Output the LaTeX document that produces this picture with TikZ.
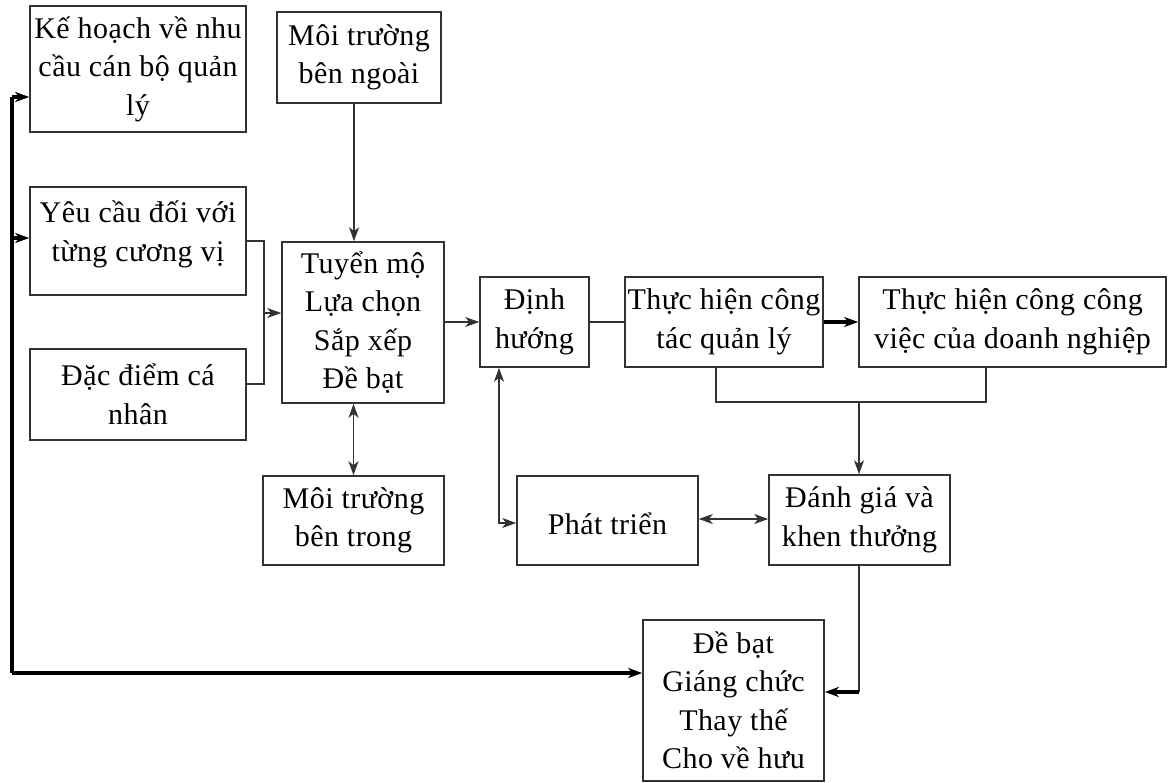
\documentclass[tikz,border=0pt]{standalone}
\usepackage{fontspec}
\setmainfont[LetterSpace=1.5]{Liberation Serif}
\usetikzlibrary{arrows.meta}
\definecolor{ln}{HTML}{333333}
\begin{document}
\begin{tikzpicture}[x=1pt,y=-1pt,
  >={Stealth[length=14pt,width=10pt,inset=4pt]},
  bx/.style={draw=ln,line width=1.6pt,rectangle,align=center,inner sep=1pt,
    font=\fontsize{30}{38.5}\selectfont},
  cn/.style={draw=ln,line width=1.5pt},
  thk/.style={draw=black,line width=3.2pt}]
\useasboundingbox (0,0) rectangle (1170,782);
\node[bx,minimum width=216,minimum height=126] (k1) at (138,69) {Kế hoạch về nhu\\cầu cán bộ quản\\lý};
\node[bx,minimum width=216,minimum height=108,text depth=20pt] (k2) at (138,241) {Yêu cầu đối với\\từng cương vị};
\node[bx,minimum width=216,minimum height=91] (k3) at (138,394.5) {Đặc điểm cá\\nhân};
\node[bx,minimum width=164,minimum height=91] (mtn) at (359,57.5) {Môi trường\\bên ngoài};
\node[bx,minimum width=162,minimum height=161] (tm) at (363,322.5) {Tuyển mộ\\Lựa chọn\\Sắp xếp\\Đề bạt};
\node[bx,minimum width=181,minimum height=89] (mtt) at (353.5,520.5) {Môi trường\\bên trong};
\node[bx,minimum width=109,minimum height=90] (dh) at (534.5,322) {Định\\hướng};
\node[bx,minimum width=198,minimum height=90] (th1) at (724,322) {Thực hiện công\\tác quản lý};
\node[bx,minimum width=307,minimum height=90] (th2) at (1012.5,322) {Thực hiện công công\\việc của doanh nghiệp};
\node[bx,minimum width=181,minimum height=89,text height=28pt] (pt) at (607.5,520.5) {Phát triển};
\node[bx,minimum width=181,minimum height=90] (dg) at (859.5,520) {Đánh giá và\\khen thưởng};
\node[bx,minimum width=181,minimum height=161] (db) at (733.5,700.5) {Đề bạt\\Giáng chức\\Thay thế\\Cho về hưu};
% left feedback loop
\coordinate (lp) at (12,673);
\coordinate (l1) at (12,97);
\coordinate (l2) at (12,238);
\draw[thk,->] (lp) -- (lp -| db.west);
\draw[thk] (lp) -- (l1);
\draw[thk,->] (l1) -- (l1 -| k1.west);
\draw[thk,->] (l2) -- (l2 -| k2.west);
% merge into Tuyen mo
\coordinate (m1) at (264,241);
\coordinate (m2) at (264,384);
\coordinate (m3) at (264,313);
\draw[cn] (k2.east |- m1) -- (m1) -- (m2) -- (k3.east |- m2);
\draw[cn,->] (m3) -- (m3 -| tm.west);
\draw[cn,->] ([xshift=-5pt]mtn.south) -- ([xshift=-5pt]mtn.south |- tm.north);
\draw[cn,<->] (mtt.north |- tm.south) -- (mtt.north);
\draw[cn,->] (tm.east |- dh.west) -- (dh.west);
\draw[cn] (dh.east) -- (th1.west);
\draw[thk,->] (th1.east) -- (th2.west);
\coordinate (jn) at (859,402);
\draw[cn] ([xshift=-8pt]th1.south) |- (jn) -| ([xshift=-26.5pt]th2.south);
\draw[cn,->] (jn) -- (jn |- dg.north);
% Dinh huong <-> Phat trien
\coordinate (d1) at (499,523);
\draw[cn,<->] (d1 |- dh.south) -- (d1) -- (d1 -| pt.west);
\coordinate (p1) at (700,519);
\draw[cn,<->] (pt.east |- p1) -- (p1 -| dg.west);
% Danh gia -> De bat
\coordinate (e1) at (859,692);
\draw[cn] (e1 |- dg.south) -- (e1);
\draw[thk,->] (e1) -- (e1 -| db.east);
\end{tikzpicture}
\end{document}
